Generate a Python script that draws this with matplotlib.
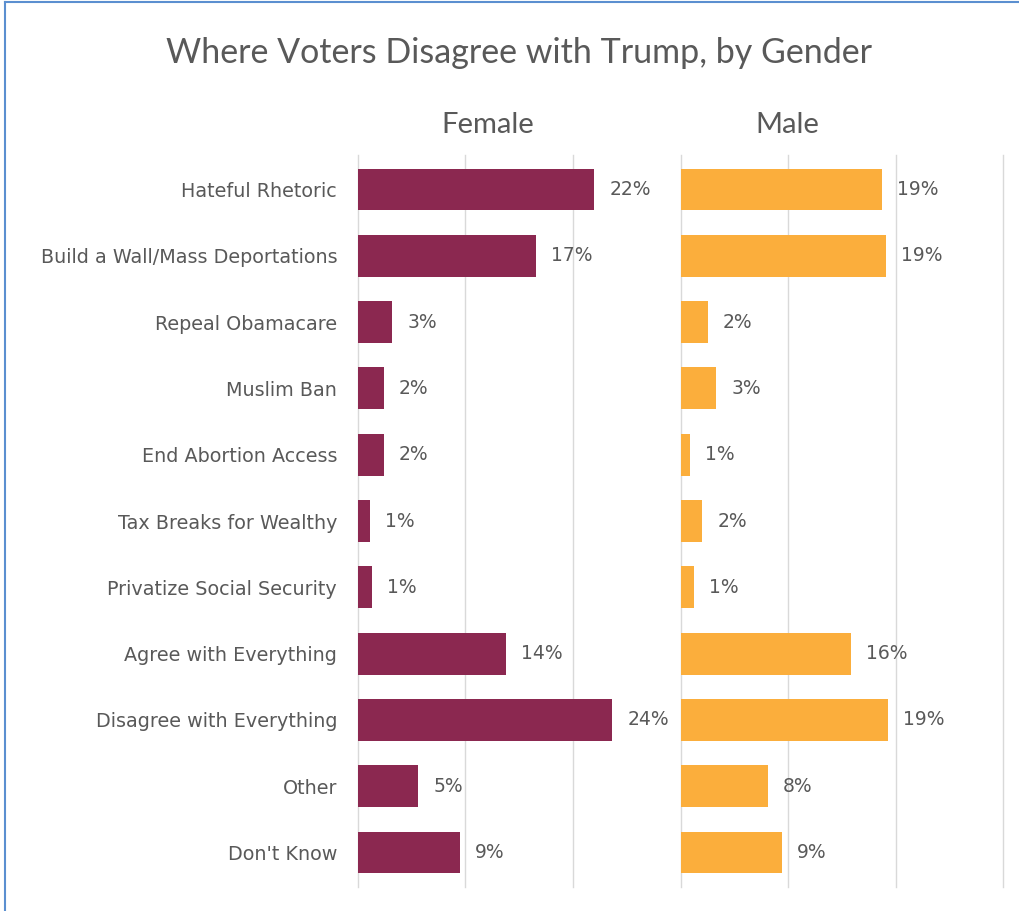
import matplotlib.pyplot as plt
from matplotlib.lines import Line2D

plt.rcParams['font.family'] = ['Lato', 'DejaVu Sans']

categories = ["Hateful Rhetoric", "Build a Wall/Mass Deportations", "Repeal Obamacare",
              "Muslim Ban", "End Abortion Access", "Tax Breaks for Wealthy",
              "Privatize Social Security", "Agree with Everything",
              "Disagree with Everything", "Other", "Don't Know"]
female = [22.0, 16.6, 3.2, 2.4, 2.4, 1.1, 1.3, 13.8, 23.7, 5.6, 9.5]
male = [18.7, 19.1, 2.5, 3.3, 0.8, 2.0, 1.2, 15.8, 19.3, 8.1, 9.4]
female_labels = ["22%", "17%", "3%", "2%", "2%", "1%", "1%", "14%", "24%", "5%", "9%"]
male_labels = ["19%", "19%", "2%", "3%", "1%", "2%", "1%", "16%", "19%", "8%", "9%"]

fig = plt.figure(figsize=(10.2, 9.11), dpi=100)
ax1 = fig.add_axes([0.351, 0.0263, 0.3157, 0.8036])
ax2 = fig.add_axes([0.6676, 0.0263, 0.3157, 0.8036])

ypos = list(range(len(categories)))
for ax, vals, labs, color, name, grid, tx in [
        (ax1, female, female_labels, "#8b2850", "Female", [0, 10, 20], 12.1),
        (ax2, male, male_labels, "#fbae3c", "Male", [0, 10, 20, 30], 9.9)]:
    ax.barh(ypos, vals, height=0.63, color=color, zorder=2)
    for g in grid:
        ax.axvline(g, color="#d9d9d9", lw=1, zorder=1, clip_on=False)
    for y, v, t in zip(ypos, vals, labs):
        ax.text(v + 1.4, y, t, va="center", ha="left", fontsize=13.5,
                color="#595959", family="DejaVu Sans")
    ax.set_xlim(0, 30)
    ax.set_ylim(10.52, -0.52)
    ax.set_xticks([])
    ax.set_yticks([])
    for s in ax.spines.values():
        s.set_visible(False)
    ax.text(tx, -0.97, name, ha="center", va="center", fontsize=21, color="#595959")

ax1.set_yticks(ypos)
ax1.set_yticklabels(categories, fontsize=13.8, color="#595959", family="DejaVu Sans")
ax1.tick_params(axis="y", length=0, pad=15)

fig.text(0.509, 0.942, "Where Voters Disagree with Trump, by Gender",
         ha="center", va="center", fontsize=24.5, color="#595959")

# screenshot border
fig.add_artist(Line2D([5 / 1020, 5 / 1020], [0, 1 - 2 / 911], color="#5b8fd0", lw=1.5))
fig.add_artist(Line2D([5 / 1020, 1], [1 - 2 / 911, 1 - 2 / 911], color="#5b8fd0", lw=1.5))

fig.savefig("out.png", dpi=100)
